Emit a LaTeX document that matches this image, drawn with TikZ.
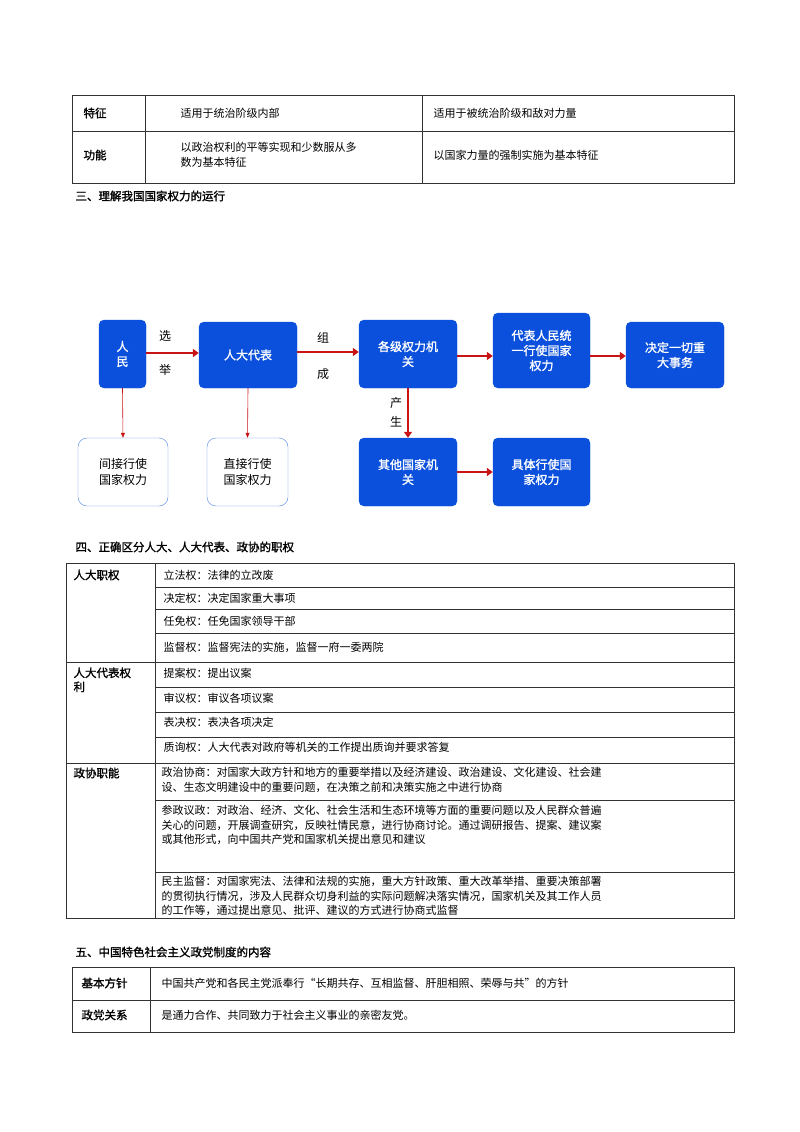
\documentclass[tikz,border=0pt]{standalone}
\usepackage{fontspec}
\setmainfont{Noto Sans CJK SC}
\newfontfamily\cjkb{Noto Sans CJK SC}[FakeBold=1.5]
\usetikzlibrary{arrows.meta}
\definecolor{bblue}{RGB}{10,80,220}
\definecolor{ared}{RGB}{200,20,20}
\tikzset{
 bbox/.style={fill=bblue,draw=bblue,rounded corners=5pt,text=white,align=center,font=\fontsize{12}{15}\selectfont\cjkb},
 wbox/.style={fill=white,draw=bblue!70,rounded corners=9pt,align=center,font=\fontsize{12}{16}\selectfont},
 thick arr/.style={draw=ared,line width=2.2pt,-{Triangle[length=6pt,width=8pt]}},
 thin arr/.style={draw=ared,line width=0.6pt,-{Triangle[length=5pt,width=4pt]}},
 cell/.style={anchor=west,font=\fontsize{11}{14.5}\selectfont,align=left},
 hd/.style={anchor=west,font=\fontsize{11.5}{14}\selectfont\cjkb,align=left},
 grid/.style={draw=black!80,line width=0.6pt},
 lbl/.style={font=\fontsize{12}{14}\selectfont}
}
\begin{document}
\begin{tikzpicture}[x=1pt,y=-1pt]
\useasboundingbox (0,0) rectangle (800,1132);
% table 1
\draw[grid] (72,95) rectangle (734,183) (72,131)--(734,131) (145,95)--(145,183) (422,95)--(422,183);
\node[hd] (t1a) at (80,113) {特征};
\node[hd] (t1b) at (80,155) {功能};
\node[cell] (t1c) at (177,113) {适用于统治阶级内部};
\node[cell] (t1d) at (430,113) {适用于被统治阶级和敌对力量};
\node[cell] (t1e) at (177,155) {以政治权利的平等实现和少数服从多\\数为基本特征};
\node[cell] (t1f) at (430,155) {以国家力量的强制实施为基本特征};
\node[hd] (h3) at (72,196) {三、理解我国国家权力的运行};
% flowchart
\node[bbox,minimum width=47pt,minimum height=68pt] (rm) at (122.5,354) {人\\民};
\node[bbox,minimum width=98pt,minimum height=66pt] (rddb) at (248,355) {人大代表};
\node[bbox,minimum width=98pt,minimum height=68pt] (gj) at (408,354) {各级权力机\\关};
\node[bbox,minimum width=97pt,minimum height=75pt] (db) at (541.5,350.5) {代表人民统\\一行使国家\\权力};
\node[bbox,minimum width=98pt,minimum height=66pt] (jd) at (675,355) {决定一切重\\大事务};
\node[wbox,minimum width=90pt,minimum height=68pt] (jj) at (123,472) {间接行使\\国家权力};
\node[wbox,minimum width=81pt,minimum height=68pt] (zj) at (247.5,472) {直接行使\\国家权力};
\node[bbox,minimum width=98pt,minimum height=68pt] (qt) at (408,472) {其他国家机\\关};
\node[bbox,minimum width=97pt,minimum height=68pt] (jt) at (541.5,472) {具体行使国\\家权力};
\draw[thick arr] (rm.east|-0,353) -- (rddb.west|-0,353);
\draw[thick arr] (rddb.east|-0,352) -- (gj.west|-0,352);
\draw[thick arr] (gj.east|-0,356) -- (db.west|-0,356);
\draw[thick arr] (db.east|-0,356) -- (jd.west|-0,356);
\draw[thick arr] (gj.south) -- (qt.north);
\draw[thick arr] (qt.east) -- (jt.west);
\draw[thin arr] (rm.south) -- (jj.north);
\draw[thin arr] (rddb.south) -- (zj.north);
\node[lbl] (x1) at (165,336) {选};
\node[lbl] (x2) at (165,370) {举};
\node[lbl] (z1) at (323,338) {组};
\node[lbl] (z2) at (323,374) {成};
\node[lbl] (c1) at (396,403) {产};
\node[lbl] (c2) at (396,422) {生};
% table 2
\node[hd] (h4) at (72,547) {四、正确区分人大、人大代表、政协的职权};
\draw[grid] (66,563) rectangle (734,918) (155,563)--(155,918) (66,662)--(734,662) (66,763)--(734,763);
\foreach \y in {587,609,633,687,712,737,800,872} \draw[grid] (155,\y)--(734,\y);
\node[hd] (r1) at (70,575) {人大职权};
\node[hd,anchor=north west] (r2) at (70,664) {人大代表权\\利};
\node[hd] (r3) at (70,773) {政协职能};
\node[cell] at (160,575) {立法权：法律的立改废};
\node[cell] at (160,598) {决定权：决定国家重大事项};
\node[cell] at (160,621) {任免权：任免国家领导干部};
\node[cell] at (160,647) {监督权：监督宪法的实施，监督一府一委两院};
\node[cell] at (160,673) {提案权：提出议案};
\node[cell] at (160,698) {审议权：审议各项议案};
\node[cell] at (160,722) {表决权：表决各项决定};
\node[cell] at (160,747) {质询权：人大代表对政府等机关的工作提出质询并要求答复};
\node[cell,anchor=north west] at (158,764) {政治协商：对国家大政方针和地方的重要举措以及经济建设、政治建设、文化建设、社会建\\设、生态文明建设中的重要问题，在决策之前和决策实施之中进行协商};
\node[cell,anchor=north west] at (158,802) {参政议政：对政治、经济、文化、社会生活和生态环境等方面的重要问题以及人民群众普遍\\关心的问题，开展调查研究，反映社情民意，进行协商讨论。通过调研报告、提案、建议案\\或其他形式，向中国共产党和国家机关提出意见和建议};
\node[cell,anchor=north west] at (158,873) {民主监督：对国家宪法、法律和法规的实施，重大方针政策、重大改革举措、重要决策部署\\的贯彻执行情况，涉及人民群众切身利益的实际问题解决落实情况，国家机关及其工作人员\\的工作等，通过提出意见、批评、建议的方式进行协商式监督};
% table 3
\node[hd] (h5) at (72,952) {五、中国特色社会主义政党制度的内容};
\draw[grid] (72,967) rectangle (734,1032) (72,1000)--(734,1000) (150,967)--(150,1032);
\node[hd] at (78,983) {基本方针};
\node[hd] at (78,1015) {政党关系};
\node[cell] at (158,983) {中国共产党和各民主党派奉行“长期共存、互相监督、肝胆相照、荣辱与共”的方针};
\node[cell] at (158,1015) {是通力合作、共同致力于社会主义事业的亲密友党。};
\end{tikzpicture}
\end{document}
